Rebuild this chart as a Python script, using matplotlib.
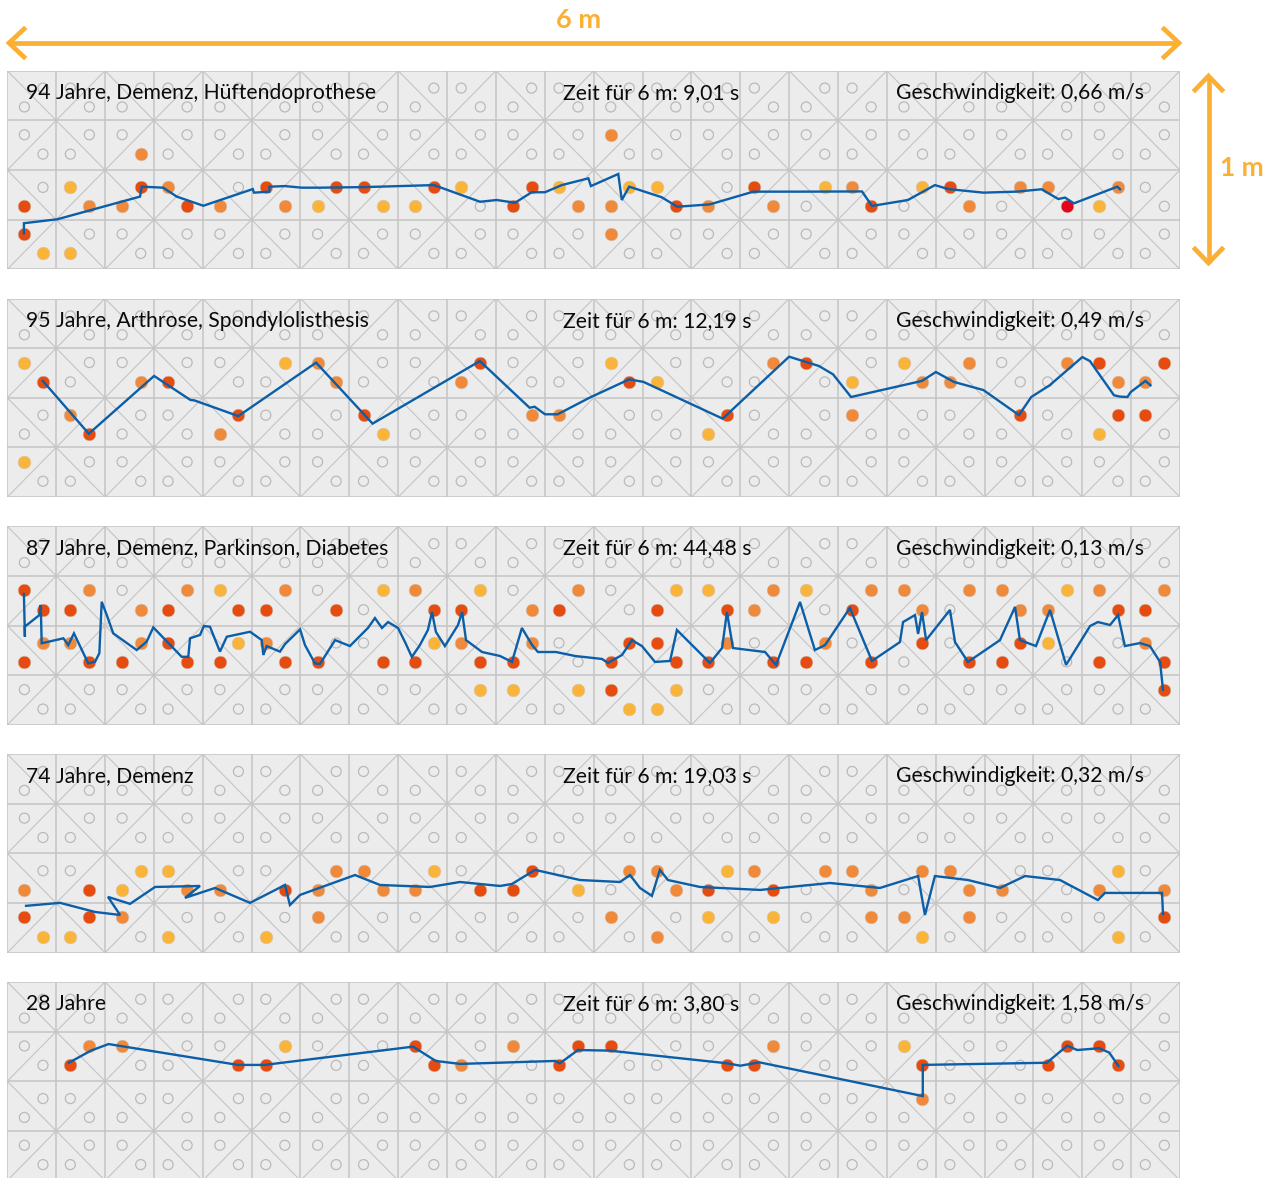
import matplotlib
matplotlib.use("Agg")
import matplotlib.pyplot as plt
from matplotlib.collections import LineCollection

plt.rcParams['font.family'] = ['Lato', 'DejaVu Sans']

W, H = 1268, 1178
fig = plt.figure(figsize=(W / 100, H / 100), dpi=100)

# ---------------- walkway geometry (metres) ----------------
LENGTH_M = 6.0
WIDTH_M = 1.0
CELL = 0.25
N_COLS, N_ROWS = 24, 4
OFF_EVEN = (0.35, 0.73)
OFF_ODD = (0.29, 0.68)

COLORS = {'r': '#e64b10', 'o': '#f0893a', 'y': '#fbb43a', 'R': '#e3061b'}
LINE_C = '#0b5ea8'
GRID_C = '#c4c4c4'
BG_C = '#ececec'
ARROW_C = '#fbb034'

# ---------------- data ----------------
titles = ["94 Jahre, Demenz, Hüftendoprothese",
          "95 Jahre, Arthrose, Spondylolisthesis",
          "87 Jahre, Demenz, Parkinson, Diabetes",
          "74 Jahre, Demenz",
          "28 Jahre"]
times = ["9,01", "12,19", "44,48", "19,03", "3,80"]
speeds = ["0,66", "0,49", "0,13", "0,32", "1,58"]

# activated sensors: (column index 0-47, row index 0-7, colour code)
dots_1 = [(5, 3, 'o'), (2, 4, 'y'), (0, 5, 'r'), (0, 6, 'r'), (1, 7, 'y'), (2, 7, 'y'),
          (3, 5, 'o'), (4, 5, 'o'), (5, 4, 'r'), (6, 4, 'o'), (7, 5, 'r'), (8, 5, 'o'),
          (10, 4, 'r'), (11, 5, 'o'), (12, 5, 'y'), (13, 4, 'r'), (14, 4, 'r'), (15, 5, 'y'),
          (16, 5, 'y'), (17, 4, 'r'), (18, 4, 'y'), (20, 5, 'r'), (21, 4, 'r'), (22, 4, 'y'),
          (23, 5, 'o'), (24, 2, 'o'), (24, 5, 'o'), (24, 6, 'o'), (25, 4, 'y'), (26, 4, 'y'),
          (27, 5, 'r'), (28, 5, 'o'), (30, 4, 'r'), (31, 5, 'o'), (33, 4, 'y'), (34, 4, 'o'),
          (35, 5, 'r'), (37, 4, 'y'), (38, 4, 'r'), (39, 5, 'o'), (41, 4, 'o'), (42, 4, 'o'),
          (43, 5, 'R'), (44, 5, 'y'), (45, 4, 'o')]
path_x_1 = [0.085, 0.085, 0.256, 0.679, 0.688, 0.798, 0.867, 1.003, 1.256, 1.262, 1.341, 1.341,
            1.421, 1.506, 1.600, 1.830, 2.183, 2.419, 2.504, 2.598, 2.683, 2.751, 2.837, 2.973,
            2.986, 3.126, 3.144, 3.182, 3.348, 3.428, 3.595, 3.817, 4.056, 4.373, 4.424, 4.608,
            4.746, 4.814, 4.994, 5.164, 5.292, 5.377, 5.412, 5.457, 5.679, 5.693]
path_y_1 = [0.819, 0.768, 0.748, 0.634, 0.584, 0.589, 0.634, 0.680, 0.596, 0.614, 0.609, 0.584,
            0.581, 0.589, 0.589, 0.586, 0.576, 0.660, 0.651, 0.665, 0.612, 0.612, 0.576, 0.542,
            0.581, 0.520, 0.651, 0.584, 0.637, 0.685, 0.673, 0.609, 0.609, 0.608, 0.681, 0.651,
            0.576, 0.596, 0.614, 0.609, 0.597, 0.646, 0.639, 0.668, 0.584, 0.597]

dots_2 = [(0, 2, 'y'), (1, 3, 'r'), (2, 4, 'o'), (3, 5, 'r'), (0, 6, 'y'), (5, 3, 'o'),
          (6, 3, 'r'), (8, 5, 'o'), (9, 4, 'r'), (11, 2, 'y'), (12, 2, 'o'), (13, 3, 'o'),
          (14, 4, 'r'), (15, 5, 'y'), (18, 3, 'o'), (19, 2, 'r'), (21, 4, 'o'), (22, 4, 'o'),
          (24, 2, 'y'), (25, 3, 'r'), (26, 3, 'y'), (29, 4, 'r'), (28, 5, 'y'), (31, 2, 'o'),
          (32, 2, 'r'), (34, 3, 'y'), (34, 4, 'o'), (36, 2, 'y'), (37, 3, 'o'), (38, 3, 'o'),
          (39, 2, 'o'), (41, 4, 'r'), (43, 2, 'o'), (44, 2, 'r'), (45, 3, 'o'), (44, 5, 'y'),
          (45, 4, 'r'), (46, 3, 'o'), (46, 4, 'r'), (47, 2, 'r')]
path_x_2 = [0.182, 0.417, 0.751, 0.937, 0.957, 1.182, 1.580, 1.869, 2.418, 2.672, 2.698, 2.751,
            2.816, 2.980, 3.182, 3.255, 3.660, 4.000, 4.153, 4.225, 4.317, 4.680, 4.751, 4.843,
            4.994, 5.176, 5.239, 5.333, 5.500, 5.539, 5.662, 5.692, 5.731, 5.748, 5.823, 5.849]
path_y_2 = [0.415, 0.681, 0.390, 0.511, 0.513, 0.592, 0.323, 0.630, 0.315, 0.550, 0.545, 0.583,
            0.583, 0.499, 0.407, 0.420, 0.605, 0.293, 0.340, 0.382, 0.496, 0.415, 0.370, 0.420,
            0.461, 0.587, 0.496, 0.437, 0.295, 0.315, 0.487, 0.494, 0.496, 0.471, 0.415, 0.437]

dots_3 = [(0, 2, 'r'), (3, 2, 'o'), (7, 2, 'o'), (8, 2, 'y'), (11, 2, 'o'), (15, 2, 'y'),
          (16, 2, 'o'), (19, 2, 'y'), (23, 2, 'o'), (27, 2, 'y'), (28, 2, 'y'), (31, 2, 'o'),
          (32, 2, 'y'), (35, 2, 'o'), (36, 2, 'o'), (39, 2, 'o'), (40, 2, 'o'), (43, 2, 'y'),
          (44, 2, 'o'), (47, 2, 'o'),
          (1, 3, 'r'), (2, 3, 'r'), (5, 3, 'o'), (6, 3, 'r'), (9, 3, 'r'), (10, 3, 'r'),
          (13, 3, 'r'), (17, 3, 'r'), (18, 3, 'r'), (21, 3, 'o'), (22, 3, 'r'), (26, 3, 'r'),
          (29, 3, 'r'), (30, 3, 'o'), (34, 3, 'r'), (37, 3, 'o'), (41, 3, 'o'), (42, 3, 'o'),
          (45, 3, 'r'), (46, 3, 'r'),
          (1, 4, 'o'), (2, 4, 'o'), (5, 4, 'o'), (6, 4, 'r'), (9, 4, 'y'), (10, 4, 'o'),
          (17, 4, 'y'), (18, 4, 'o'), (21, 4, 'o'), (25, 4, 'r'), (26, 4, 'r'), (29, 4, 'o'),
          (33, 4, 'o'), (37, 4, 'r'), (41, 4, 'r'), (42, 4, 'y'), (46, 4, 'o'),
          (0, 5, 'r'), (3, 5, 'r'), (4, 5, 'r'), (7, 5, 'r'), (8, 5, 'r'), (11, 5, 'r'),
          (12, 5, 'r'), (15, 5, 'r'), (16, 5, 'r'), (19, 5, 'r'), (20, 5, 'r'), (24, 5, 'r'),
          (27, 5, 'r'), (28, 5, 'r'), (31, 5, 'r'), (32, 5, 'r'), (35, 5, 'r'), (39, 5, 'r'),
          (40, 5, 'r'), (44, 5, 'r'), (47, 5, 'r'),
          (19, 6, 'y'), (20, 6, 'y'), (23, 6, 'y'), (24, 6, 'r'), (27, 6, 'y'), (47, 6, 'r'),
          (25, 7, 'y'), (26, 7, 'y')]
path_x_3 = [0.085, 0.090, 0.090, 0.164, 0.171, 0.176, 0.287, 0.312, 0.341, 0.414, 0.449, 0.471,
            0.483, 0.509, 0.542, 0.662, 0.713, 0.747, 0.892, 0.926, 0.935, 0.986, 1.006, 1.037,
            1.088, 1.123, 1.242, 1.302, 1.310, 1.327, 1.395, 1.421, 1.498, 1.523, 1.574, 1.600,
            1.677, 1.753, 1.845, 1.881, 1.917, 1.948, 1.999, 2.035, 2.070, 2.111, 2.152, 2.173,
            2.193, 2.239, 2.306, 2.327, 2.347, 2.429, 2.521, 2.582, 2.633, 2.685, 2.715, 2.807,
            2.905, 3.043, 3.073, 3.145, 3.196, 3.247, 3.314, 3.391, 3.426, 3.595, 3.657, 3.682,
            3.713, 3.877, 3.933, 4.056, 4.132, 4.184, 4.311, 4.424, 4.567, 4.583, 4.644, 4.660,
            4.680, 4.701, 4.823, 4.849, 4.915, 5.079, 5.156, 5.181, 5.263, 5.335, 5.417, 5.540,
            5.580, 5.642, 5.683, 5.718, 5.795, 5.846, 5.898, 5.913]
path_y_3 = [0.341, 0.556, 0.505, 0.447, 0.396, 0.589, 0.564, 0.598, 0.539, 0.690, 0.682, 0.639,
            0.380, 0.447, 0.539, 0.623, 0.581, 0.509, 0.657, 0.657, 0.564, 0.547, 0.502, 0.506,
            0.631, 0.556, 0.531, 0.573, 0.648, 0.603, 0.631, 0.593, 0.519, 0.598, 0.690, 0.693,
            0.573, 0.603, 0.512, 0.462, 0.512, 0.482, 0.512, 0.583, 0.658, 0.598, 0.522, 0.432,
            0.532, 0.603, 0.497, 0.432, 0.573, 0.633, 0.653, 0.683, 0.512, 0.598, 0.633, 0.633,
            0.653, 0.668, 0.688, 0.648, 0.573, 0.603, 0.683, 0.678, 0.522, 0.688, 0.613, 0.432,
            0.613, 0.633, 0.698, 0.381, 0.623, 0.598, 0.411, 0.678, 0.583, 0.482, 0.447, 0.542,
            0.432, 0.573, 0.421, 0.583, 0.683, 0.573, 0.406, 0.573, 0.603, 0.421, 0.698, 0.502,
            0.482, 0.497, 0.447, 0.603, 0.588, 0.603, 0.683, 0.823]

dots_4 = [(0, 5, 'o'), (0, 6, 'r'), (1, 7, 'y'), (2, 7, 'y'), (3, 5, 'r'), (3, 6, 'r'),
          (4, 5, 'y'), (4, 6, 'o'), (5, 4, 'y'), (6, 4, 'y'), (6, 7, 'y'), (7, 5, 'o'),
          (8, 5, 'o'), (10, 7, 'y'), (11, 5, 'r'), (12, 5, 'o'), (12, 6, 'o'), (13, 4, 'o'),
          (14, 4, 'o'), (15, 5, 'o'), (16, 5, 'o'), (17, 4, 'y'), (19, 5, 'r'), (20, 5, 'r'),
          (21, 4, 'r'), (23, 5, 'y'), (24, 6, 'o'), (25, 4, 'o'), (26, 4, 'o'), (26, 7, 'o'),
          (27, 5, 'o'), (28, 5, 'r'), (28, 6, 'y'), (29, 4, 'y'), (30, 4, 'o'), (31, 5, 'r'),
          (31, 6, 'y'), (33, 4, 'o'), (34, 4, 'o'), (35, 5, 'o'), (35, 6, 'o'), (36, 6, 'o'),
          (37, 4, 'o'), (37, 7, 'y'), (38, 4, 'o'), (39, 5, 'o'), (39, 6, 'o'), (40, 5, 'o'),
          (44, 5, 'o'), (45, 4, 'y'), (45, 7, 'y'), (47, 5, 'o'), (47, 6, 'r')]
path_x_4 = [0.096, 0.270, 0.449, 0.577, 0.515, 0.628, 0.756, 0.986, 0.909, 1.063, 1.242, 1.421,
            1.446, 1.498, 1.779, 1.907, 2.163, 2.316, 2.521, 2.582, 2.700, 2.930, 3.135, 3.186,
            3.237, 3.298, 3.339, 3.380, 3.544, 3.852, 4.209, 4.465, 4.660, 4.695, 4.746, 4.915,
            5.079, 5.207, 5.386, 5.580, 5.616, 5.908, 5.913]
path_y_4 = [0.764, 0.749, 0.795, 0.810, 0.719, 0.754, 0.669, 0.664, 0.724, 0.674, 0.749, 0.659,
            0.760, 0.709, 0.609, 0.659, 0.669, 0.644, 0.664, 0.654, 0.583, 0.634, 0.644, 0.609,
            0.674, 0.714, 0.583, 0.634, 0.669, 0.684, 0.649, 0.674, 0.614, 0.810, 0.614, 0.634,
            0.674, 0.614, 0.634, 0.735, 0.699, 0.699, 0.805]

dots_5 = [(2, 3, 'r'), (3, 2, 'o'), (4, 2, 'o'), (9, 3, 'r'), (10, 3, 'r'), (11, 2, 'y'),
          (16, 2, 'r'), (17, 3, 'r'), (18, 3, 'o'), (20, 2, 'o'), (22, 3, 'r'), (23, 2, 'r'),
          (24, 2, 'r'), (29, 3, 'r'), (30, 3, 'r'), (31, 2, 'o'), (36, 2, 'y'), (37, 3, 'r'),
          (37, 4, 'o'), (42, 3, 'r'), (43, 2, 'r'), (44, 2, 'r'), (45, 3, 'r')]
path_x_5 = [0.315, 0.428, 0.518, 1.180, 1.316, 2.076, 2.192, 2.317, 2.804, 2.827, 2.920, 3.080,
            3.684, 3.750, 3.848, 4.684, 4.684, 5.319, 5.423, 5.474, 5.587, 5.638, 5.685]
path_y_5 = [0.407, 0.346, 0.313, 0.418, 0.418, 0.326, 0.398, 0.413, 0.398, 0.410, 0.343, 0.346,
            0.410, 0.422, 0.405, 0.575, 0.418, 0.407, 0.321, 0.343, 0.334, 0.356, 0.423]

panels = [(dots_1, path_x_1, path_y_1), (dots_2, path_x_2, path_y_2),
          (dots_3, path_x_3, path_y_3), (dots_4, path_x_4, path_y_4),
          (dots_5, path_x_5, path_y_5)]


def sensor_pos(X, Y):
    c, sx = divmod(X, 2)
    r, sy = divmod(Y, 2)
    ox = (OFF_EVEN if c % 2 == 0 else OFF_ODD)[sx]
    oy = (OFF_EVEN if r % 2 == 0 else OFF_ODD)[sy]
    return (c + ox) * CELL, (r + oy) * CELL


all_sensors = [(X, Y) for X in range(2 * N_COLS) for Y in range(2 * N_ROWS)
               if (X // 2 + Y // 2 + X % 2 + Y % 2) % 2 == 1]

# ---------------- layout (pixels) ----------------
PX_LEFT, PX_W = 7.3, 1172.7
PX_TOP0, PX_STEP, PX_H = 70.7, 227.8, 198.6

for k, (dots, px, py) in enumerate(panels):
    top = PX_TOP0 + k * PX_STEP
    ax = fig.add_axes([PX_LEFT / W, 1 - (top + PX_H) / H, PX_W / W, PX_H / H])
    ax.set_xlim(0, LENGTH_M)
    ax.set_ylim(WIDTH_M, 0)
    ax.set_facecolor(BG_C)
    for s in ax.spines.values():
        s.set_visible(False)
    ax.set_xticks([])
    ax.set_yticks([])

    segs = []
    for i in range(N_COLS + 1):
        segs.append([(i * CELL, 0), (i * CELL, WIDTH_M)])
    for j in range(N_ROWS + 1):
        segs.append([(0, j * CELL), (LENGTH_M, j * CELL)])
    ax.add_collection(LineCollection(segs, colors=GRID_C, linewidths=1.1, zorder=1))
    diag = []
    for c in range(N_COLS):
        for r in range(N_ROWS):
            if (c + r) % 2 == 0:
                diag.append([(c * CELL, r * CELL), ((c + 1) * CELL, (r + 1) * CELL)])
            else:
                diag.append([(c * CELL, (r + 1) * CELL), ((c + 1) * CELL, r * CELL)])
    ax.add_collection(LineCollection(diag, colors=GRID_C, linewidths=0.8, zorder=1))

    active = {(X, Y): col for X, Y, col in dots}
    ox, oy = [], []
    for X, Y in all_sensors:
        if (X, Y) not in active:
            x, y = sensor_pos(X, Y)
            ox.append(x)
            oy.append(y)
    ax.scatter(ox, oy, s=52, facecolors='none', edgecolors='#bababa', linewidths=0.9, zorder=2)
    for (X, Y), col in active.items():
        x, y = sensor_pos(X, Y)
        ax.scatter([x], [y], s=84, color=COLORS[col], edgecolors='#d0c8c0', linewidths=0.4,
                   zorder=3)
    ax.plot(px, py, color=LINE_C, lw=1.7, zorder=4, solid_joinstyle='miter')

    fs = 15.2
    ax.text(0.016, 0.888, titles[k], transform=ax.transAxes, fontsize=fs, va='center',
            ha='left', color='#0a0a0a', zorder=5)
    ax.text(0.474, 0.888, f"Zeit für 6 m: {times[k]} s", transform=ax.transAxes, fontsize=fs,
            va='center', ha='left', color='#0a0a0a', zorder=5)
    ax.text(0.758, 0.888, f"Geschwindigkeit: {speeds[k]} m/s", transform=ax.transAxes,
            fontsize=fs, va='center', ha='left', color='#0a0a0a', zorder=5)

# ---------------- scale arrows ----------------
ov = fig.add_axes([0, 0, 1, 1], zorder=10)
ov.set_xlim(0, W)
ov.set_ylim(H, 0)
ov.axis('off')
ov.patch.set_alpha(0)
lw_arrow = 3.4
ov.plot([9, 1179], [43, 43], color=ARROW_C, lw=lw_arrow, solid_capstyle='butt')
ov.plot([24, 9, 24], [29, 43, 57], color=ARROW_C, lw=lw_arrow, solid_joinstyle='miter')
ov.plot([1164, 1179, 1164], [29, 43, 57], color=ARROW_C, lw=lw_arrow, solid_joinstyle='miter')
ov.text(579, 20, "6 m", color=ARROW_C, fontsize=19.5, fontweight='bold', ha='center',
        va='center')
ov.plot([1208.5, 1208.5], [76, 263], color=ARROW_C, lw=lw_arrow, solid_capstyle='butt')
ov.plot([1195, 1208.5, 1222], [90, 76, 90], color=ARROW_C, lw=lw_arrow, solid_joinstyle='miter')
ov.plot([1195, 1208.5, 1222], [249, 263, 249], color=ARROW_C, lw=lw_arrow,
        solid_joinstyle='miter')
ov.text(1242, 168, "1 m", color=ARROW_C, fontsize=19, fontweight='bold', ha='center',
        va='center')

fig.savefig("out.png", dpi=100)
